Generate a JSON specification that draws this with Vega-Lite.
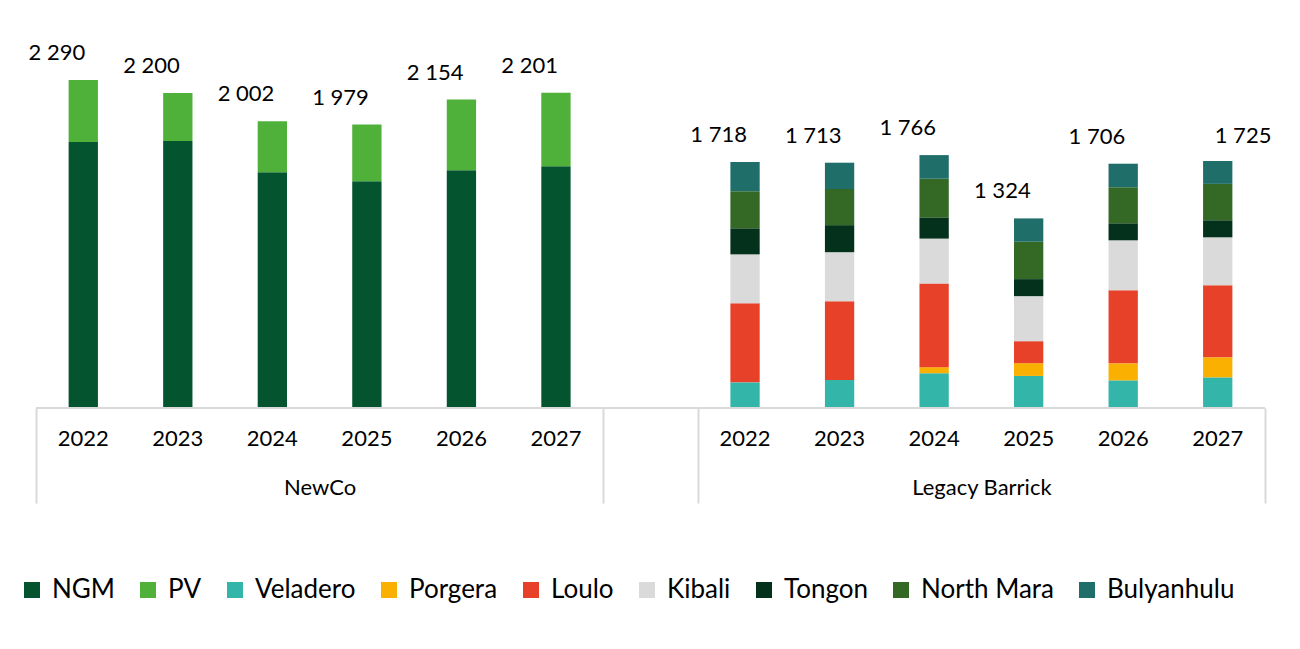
{
  "$schema": "https://vega.github.io/schema/vega-lite/v6.json",
  "width": 1229,
  "height": 358,
  "autosize": {"type": "none"},
  "padding": {"left": 36, "top": 50, "right": 35, "bottom": 241},
  "config": {
    "view": {"stroke": null},
    "font": "Lato",
    "locale": {"number": {"decimal": ",", "thousands": " ", "grouping": [3], "currency": ["", ""]}}
  },
  "datasets": {
    "mines": [
      {"slot": "N2022", "mine": "NGM", "value": 1857, "o": 1},
      {"slot": "N2022", "mine": "PV", "value": 433, "o": 2},
      {"slot": "N2023", "mine": "NGM", "value": 1864, "o": 1},
      {"slot": "N2023", "mine": "PV", "value": 336, "o": 2},
      {"slot": "N2024", "mine": "NGM", "value": 1647, "o": 1},
      {"slot": "N2024", "mine": "PV", "value": 355, "o": 2},
      {"slot": "N2025", "mine": "NGM", "value": 1584, "o": 1},
      {"slot": "N2025", "mine": "PV", "value": 395, "o": 2},
      {"slot": "N2026", "mine": "NGM", "value": 1661, "o": 1},
      {"slot": "N2026", "mine": "PV", "value": 493, "o": 2},
      {"slot": "N2027", "mine": "NGM", "value": 1689, "o": 1},
      {"slot": "N2027", "mine": "PV", "value": 512, "o": 2},

      {"slot": "L2022", "mine": "Veladero", "value": 179, "o": 3},
      {"slot": "L2022", "mine": "Loulo", "value": 552, "o": 5},
      {"slot": "L2022", "mine": "Kibali", "value": 342, "o": 6},
      {"slot": "L2022", "mine": "Tongon", "value": 182, "o": 7},
      {"slot": "L2022", "mine": "North Mara", "value": 259, "o": 8},
      {"slot": "L2022", "mine": "Bulyanhulu", "value": 204, "o": 9},

      {"slot": "L2023", "mine": "Veladero", "value": 196, "o": 3},
      {"slot": "L2023", "mine": "Loulo", "value": 550, "o": 5},
      {"slot": "L2023", "mine": "Kibali", "value": 342, "o": 6},
      {"slot": "L2023", "mine": "Tongon", "value": 189, "o": 7},
      {"slot": "L2023", "mine": "North Mara", "value": 252, "o": 8},
      {"slot": "L2023", "mine": "Bulyanhulu", "value": 184, "o": 9},

      {"slot": "L2024", "mine": "Veladero", "value": 243, "o": 3},
      {"slot": "L2024", "mine": "Porgera", "value": 42, "o": 4},
      {"slot": "L2024", "mine": "Loulo", "value": 584, "o": 5},
      {"slot": "L2024", "mine": "Kibali", "value": 314, "o": 6},
      {"slot": "L2024", "mine": "Tongon", "value": 148, "o": 7},
      {"slot": "L2024", "mine": "North Mara", "value": 270, "o": 8},
      {"slot": "L2024", "mine": "Bulyanhulu", "value": 165, "o": 9},

      {"slot": "L2025", "mine": "Veladero", "value": 224, "o": 3},
      {"slot": "L2025", "mine": "Porgera", "value": 89, "o": 4},
      {"slot": "L2025", "mine": "Loulo", "value": 154, "o": 5},
      {"slot": "L2025", "mine": "Kibali", "value": 314, "o": 6},
      {"slot": "L2025", "mine": "Tongon", "value": 119, "o": 7},
      {"slot": "L2025", "mine": "North Mara", "value": 261, "o": 8},
      {"slot": "L2025", "mine": "Bulyanhulu", "value": 163, "o": 9},

      {"slot": "L2026", "mine": "Veladero", "value": 193, "o": 3},
      {"slot": "L2026", "mine": "Porgera", "value": 119, "o": 4},
      {"slot": "L2026", "mine": "Loulo", "value": 510, "o": 5},
      {"slot": "L2026", "mine": "Kibali", "value": 349, "o": 6},
      {"slot": "L2026", "mine": "Tongon", "value": 119, "o": 7},
      {"slot": "L2026", "mine": "North Mara", "value": 252, "o": 8},
      {"slot": "L2026", "mine": "Bulyanhulu", "value": 164, "o": 9},

      {"slot": "L2027", "mine": "Veladero", "value": 214, "o": 3},
      {"slot": "L2027", "mine": "Porgera", "value": 140, "o": 4},
      {"slot": "L2027", "mine": "Loulo", "value": 503, "o": 5},
      {"slot": "L2027", "mine": "Kibali", "value": 335, "o": 6},
      {"slot": "L2027", "mine": "Tongon", "value": 119, "o": 7},
      {"slot": "L2027", "mine": "North Mara", "value": 254, "o": 8},
      {"slot": "L2027", "mine": "Bulyanhulu", "value": 160, "o": 9}
    ],
    "groups": [
      {"group": "NewCo", "from": 0, "to": 6},
      {"group": "", "from": 6, "to": 7},
      {"group": "Legacy Barrick", "from": 7, "to": 13}
    ]
  },
  "layer": [
    {
      "layer": [
        {
          "data": {"name": "mines"},
          "mark": {"type": "bar", "width": {"band": 0.31}},
          "encoding": {
            "x": {
              "field": "slot", "type": "nominal",
              "scale": {
                "domain": ["N2022", "N2023", "N2024", "N2025", "N2026", "N2027", "gap", "L2022", "L2023", "L2024", "L2025", "L2026", "L2027"],
                "paddingInner": 0, "paddingOuter": 0
              },
              "axis": {
                "title": null, "orient": "bottom", "domain": false, "ticks": false,
                "labelAngle": 0, "labelFontSize": 22, "labelColor": "black", "labelPadding": 20,
                "labelExpr": "datum.value == 'gap' ? '' : substring(datum.value, 1)"
              }
            },
            "y": {
              "field": "value", "type": "quantitative", "stack": "zero",
              "scale": {"domain": [0, 2500], "nice": false}, "axis": null
            },
            "color": {
              "field": "mine", "type": "nominal",
              "scale": {
                "domain": ["NGM", "PV", "Veladero", "Porgera", "Loulo", "Kibali", "Tongon", "North Mara", "Bulyanhulu"],
                "range": ["#03542F", "#4FB03A", "#34B5AA", "#FAB000", "#E8412A", "#D9DAD9", "#03311C", "#336825", "#1F6E69"]
              },
              "legend": {
                "title": null, "orient": "none", "legendX": -17, "legendY": 527,
                "direction": "horizontal", "symbolType": "square", "symbolSize": 256,
                "symbolStrokeWidth": 0, "symbolOpacity": 1, "labelFontSize": 26,
                "labelColor": "black", "labelOffset": 7, "columnPadding": 20, "padding": 0
              }
            },
            "order": {"field": "o", "type": "quantitative"}
          }
        },
        {
          "data": {"name": "mines"},
          "transform": [{"filter": "datum.slot != 'L2027'"}],
          "mark": {"type": "text", "fontSize": 22, "color": "black", "align": "right", "baseline": "middle", "dx": 2, "dy": -27},
          "encoding": {
            "x": {
              "field": "slot", "type": "nominal",
              "scale": {
                "domain": ["N2022", "N2023", "N2024", "N2025", "N2026", "N2027", "gap", "L2022", "L2023", "L2024", "L2025", "L2026", "L2027"],
                "paddingInner": 0, "paddingOuter": 0
              }
            },
            "y": {"aggregate": "sum", "field": "value", "type": "quantitative"},
            "text": {"aggregate": "sum", "field": "value", "type": "quantitative", "format": ","}
          }
        },
        {
          "data": {"name": "mines"},
          "transform": [{"filter": "datum.slot == 'L2027'"}],
          "mark": {"type": "text", "fontSize": 22, "color": "black", "align": "left", "baseline": "middle", "dx": -3, "dy": -25},
          "encoding": {
            "x": {
              "field": "slot", "type": "nominal",
              "scale": {
                "domain": ["N2022", "N2023", "N2024", "N2025", "N2026", "N2027", "gap", "L2022", "L2023", "L2024", "L2025", "L2026", "L2027"],
                "paddingInner": 0, "paddingOuter": 0
              }
            },
            "y": {"aggregate": "sum", "field": "value", "type": "quantitative"},
            "text": {"aggregate": "sum", "field": "value", "type": "quantitative", "format": ","}
          }
        }
      ]
    },
    {
      "data": {"name": "groups"},
      "mark": {"type": "rule", "color": "#D9D9D9", "strokeWidth": 2},
      "encoding": {
        "x": {
          "field": "from", "type": "quantitative",
          "scale": {"domain": [0, 13], "nice": false, "zero": false},
          "axis": {
            "title": null, "orient": "bottom", "domain": false, "grid": false,
            "values": [0, 3, 6, 7, 10, 13],
            "tickSize": 95, "tickWidth": 2, "tickColor": "#D9D9D9",
            "tickOpacity": {"condition": {"test": "datum.value == 3 || datum.value == 10", "value": 0}, "value": 1},
            "labelFontSize": 22, "labelColor": "black", "labelPadding": -26,
            "labelOverlap": false, "labelFlush": false, "labelBound": false,
            "labelExpr": "datum.value == 3 ? 'NewCo' : datum.value == 10 ? 'Legacy Barrick' : ''"
          }
        },
        "x2": {"field": "to"},
        "y": {"datum": 0, "type": "quantitative"}
      }
    }
  ],
  "resolve": {"scale": {"x": "independent"}, "axis": {"x": "independent"}}
}
